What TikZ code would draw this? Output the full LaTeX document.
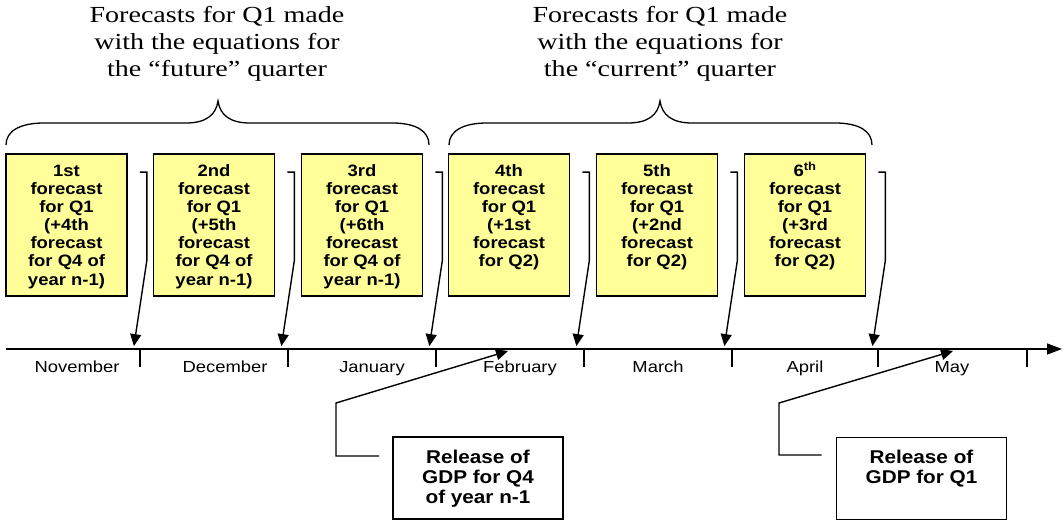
\documentclass[tikz,border=0pt]{standalone}
\usepackage{fontspec}
\setmainfont{Liberation Serif}
\newfontfamily\ttlfont{Liberation Serif}[FakeStretch=1.22]
\newfontfamily\bxfont{Liberation Sans}[FakeStretch=1.12]
\newfontfamily\mofont{Liberation Sans}[FakeStretch=1.15]
\usetikzlibrary{arrows.meta}
\definecolor{boxyellow}{HTML}{FFFF99}
\newcommand\mylines[2]{\parbox[t]{#1}{\centering #2}}
\begin{document}
\begin{tikzpicture}[x=1pt,y=-1pt,
  fbox/.style={draw=black,line width=1.8pt,fill=boxyellow,minimum width=121pt,minimum height=142pt,inner sep=0pt},
  rbox/.style={draw=black,line width=1.8pt,fill=white,minimum width=170pt,minimum height=82pt,inner sep=0pt},
  ftext/.style={anchor=base,inner sep=0pt,font=\bxfont\bfseries\fontsize{16.5}{18}\selectfont},
  rtext/.style={anchor=base,inner sep=0pt,font=\bxfont\bfseries\fontsize{18.5}{20}\selectfont},
  ttext/.style={anchor=base,inner sep=0pt,font=\ttlfont\fontsize{23}{27}\selectfont},
  mtext/.style={anchor=base,inner sep=0pt,font=\mofont\fontsize{16}{18}\selectfont},
  conn/.style={line width=1.4pt,-{Triangle[length=12pt,width=11pt]}},
  axisline/.style={line width=1.4pt,-{Triangle[length=15pt,width=11pt]}},
  tick/.style={line width=1.4pt},
  bracepath/.style={line width=1.3pt}
]
\useasboundingbox (0,0) rectangle (1064,521);

% titles
\node[ttext] (title1) at (217,23) {\mylines{300pt}{Forecasts for Q1 made\\with the equations for\\the “future” quarter}};
\node[ttext] (title2) at (660,23) {\mylines{300pt}{Forecasts for Q1 made\\with the equations for\\the “current” quarter}};

% braces
\draw[bracepath] (6,145) .. controls (6,131) and (20,123) .. (44,123) -- (186,123)
  .. controls (206,123) and (216,115) .. (218,101)
  .. controls (220,115) and (230,123) .. (250,123) -- (392,123)
  .. controls (416,123) and (429,131) .. (429,145);
\draw[bracepath] (449,145) .. controls (449,131) and (463,123) .. (487,123) -- (628,123)
  .. controls (648,123) and (658,115) .. (660,101)
  .. controls (662,115) and (672,123) .. (692,123) -- (835,123)
  .. controls (859,123) and (872,131) .. (872,145);

% forecast boxes
\node[fbox] (b1) at (66.5,225) {};
\node[fbox] (b2) at (214,225) {};
\node[fbox] (b3) at (362,225) {};
\node[fbox] (b4) at (509,225) {};
\node[fbox] (b5) at (657,225) {};
\node[fbox] (b6) at (805,225) {};

\node[ftext] (t1) at (66.5,177) {\mylines{118pt}{1st\\forecast\\for Q1\\(+4th\\forecast\\for Q4 of\\year n-1)}};
\node[ftext] (t2) at (214,177) {\mylines{118pt}{2nd\\forecast\\for Q1\\(+5th\\forecast\\for Q4 of\\year n-1)}};
\node[ftext] (t3) at (362,177) {\mylines{118pt}{3rd\\forecast\\for Q1\\(+6th\\forecast\\for Q4 of\\year n-1)}};
\node[ftext] (t4) at (509,177) {\mylines{118pt}{4th\\forecast\\for Q1\\(+1st\\forecast\\for Q2)}};
\node[ftext] (t5) at (657,177) {\mylines{118pt}{5th\\forecast\\for Q1\\(+2nd\\forecast\\for Q2)}};
\node[ftext] (t6) at (805,177) {\mylines{118pt}{6\textsuperscript{th}\\forecast\\for Q1\\(+3rd\\forecast\\for Q2)}};

% time axis
\coordinate (ax0) at (6,349);
\coordinate (ax1) at (1062,349);
\draw[axisline] (ax0) -- (ax1);
\foreach \tx in {140,288,436,584,732,878,1027} {
  \draw[tick] (\tx,349) -- (\tx,367);
}

% months
\node[mtext] (m1) at (77,372) {November};
\node[mtext] (m2) at (225,372) {December};
\node[mtext] (m3) at (372,372) {January};
\node[mtext] (m4) at (520,372) {February};
\node[mtext] (m5) at (658,372) {March};
\node[mtext] (m6) at (805,372) {April};
\node[mtext] (m7) at (952,372) {May};

% forecast arrows
\foreach \i in {1,...,6} {
  \draw[conn] ([xshift=12pt,yshift=-19pt]b\i.north east) -- ++(7,0) -- ++(0,88) -- ++(-13,86);
}

% release boxes
\node[rbox] (r1) at (478,478) {};
\node[rtext] (rt1) at (478,463) {\mylines{165pt}{Release of\\GDP for Q4\\of year n-1}};
\node[rbox] (r2) at (921.5,478.5) {};
\node[rtext] (rt2) at (921.5,463) {\mylines{165pt}{Release of\\GDP for Q1}};

\coordinate (e1) at (508,351);
\coordinate (e2) at (953,351);
\draw[conn] ([xshift=-13pt,yshift=22pt]r1.west) -- (336,456) -- (336,403) -- (e1);
\draw[conn] ([xshift=-14pt,yshift=23.5pt]r2.west) -- (779,455) -- (779,403) -- (e2);
\end{tikzpicture}
\end{document}
